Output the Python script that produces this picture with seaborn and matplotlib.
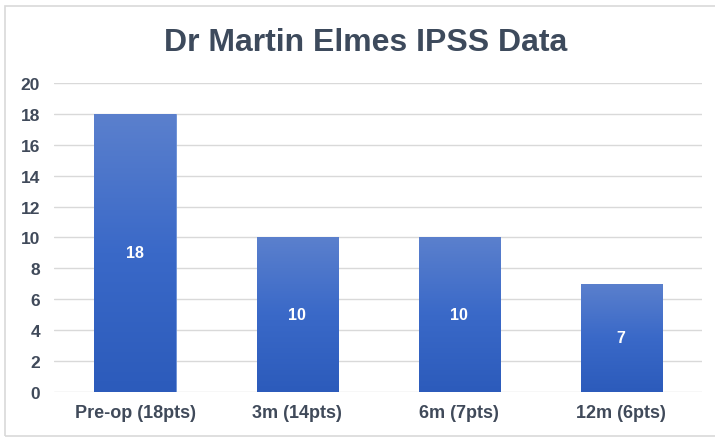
import numpy as np
import pandas as pd
import seaborn as sns
import matplotlib.pyplot as plt
from matplotlib.colors import LinearSegmentedColormap
from matplotlib.patches import Rectangle

categories = ['Pre-op (18pts)', '3m (14pts)', '6m (7pts)', '12m (6pts)']
scores = [18, 10, 10, 7]
yticks = [0, 2, 4, 6, 8, 10, 12, 14, 16, 18, 20]

df = pd.DataFrame({'period': categories, 'score': scores})

sns.set_theme(style='white')
plt.rcParams['font.family'] = ['Liberation Sans', 'DejaVu Sans']

fig = plt.figure(figsize=(7.15, 4.39), dpi=100)
ax = fig.add_axes([0.0755, 0.1048, 0.9065, 0.7039])

sns.barplot(data=df, x='period', y='score', color='#4472C4', width=0.5,
            saturation=1, ax=ax, zorder=2)

# vertical gradient on each bar, clipped to the bar shape
grad = LinearSegmentedColormap.from_list('bar', ['#2C5BBB', '#3A69C8', '#5B80CD'])
ax.set_ylim(0, 20)
ax.set_xlim(-0.5, len(categories) - 0.5)
for bar in ax.patches:
    x0, w, h = bar.get_x(), bar.get_width(), bar.get_height()
    img = ax.imshow(np.linspace(0, 1, 256).reshape(-1, 1), cmap=grad, origin='lower',
                    extent=[x0, x0 + w, 0, h], aspect='auto', zorder=3)
    img.set_clip_path(bar)
    bar.set_edgecolor('#6A8FD6')
    bar.set_linewidth(0.6)
    ax.text(x0 + w / 2, h / 2, f'{int(h)}', ha='center', va='center',
            color='white', fontsize=11.5, fontweight='bold', zorder=4)
ax.set_xlim(-0.5, len(categories) - 0.5)
ax.set_ylim(0, 20)

ax.set_yticks(yticks)
ax.yaxis.grid(True, color='#D9D9D9', linewidth=1.0, zorder=0)
ax.set_axisbelow(True)
for s in ax.spines.values():
    s.set_visible(False)
ax.tick_params(axis='both', length=0)
ax.tick_params(axis='y', pad=10, labelsize=12.5, labelcolor='#404A5A')
ax.tick_params(axis='x', pad=9, labelsize=13, labelcolor='#404A5A')
for lbl in ax.get_yticklabels() + ax.get_xticklabels():
    lbl.set_fontweight('bold')
ax.set_xlabel('')
ax.set_ylabel('')

fig.text(0.512, 0.903, 'Dr Martin Elmes IPSS Data', ha='center', va='center',
         fontsize=23, fontweight='bold', color='#3D4A5C')

fig.patches.append(Rectangle((0.007, 0.0046), 1.0, 0.9795, transform=fig.transFigure,
                             fill=False, edgecolor='#D9D9D9', linewidth=1.2))

fig.savefig('out.png', dpi=100)
